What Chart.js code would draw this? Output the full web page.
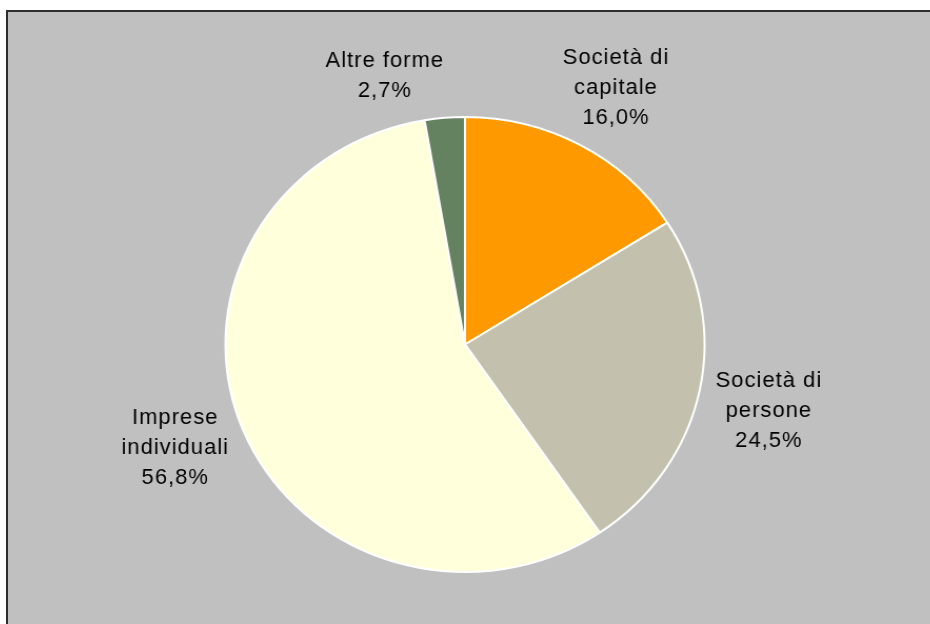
<!DOCTYPE html>
<html lang="it">
<head>
  <meta charset="UTF-8">
  <title>Forme giuridiche</title>
  <script src="https://cdn.jsdelivr.net/npm/chart.js"></script>
  <style>
    html, body { margin: 0; padding: 0; background: #ffffff; }
    body { width: 930px; height: 624px; position: relative; overflow: hidden; }
    .frame {
      position: absolute; left: 6px; top: 10px; width: 1000px; height: 700px;
      background: #c0c0c0; border-left: 2px solid #2e2e2e; border-top: 2px solid #2e2e2e;
    }
    /* la torta originale è leggermente ovale: allargo in orizzontale */
    .wrap {
      position: absolute; left: 0; top: 0; width: 930px; height: 624px;
      transform: scaleX(1.053); transform-origin: 465px 50%;
    }
  </style>
</head>
<body>
  <div class="frame"></div>
  <div class="wrap"><canvas id="torta"></canvas></div>

  <script>
    const SX = 1.053;
    const categorie = [['Società di', 'capitale'], ['Società di', 'persone'], ['Imprese', 'individuali'], ['Altre forme']];
    const valori = [16.0, 24.5, 56.8, 2.7];
    const colori = ['#FF9900', '#C3C1AD', '#FFFFDB', '#658260'];

    // posizione delle etichette: distanza dal centro (in raggi) e spostamento extra
    const posEtichette = [
      { k: 1.29, dx: 2, dy: 1 },
      { k: 1.30, dx: -1, dy: 6 },
      { k: 1.29, dx: -3, dy: -6 },
      { k: 1.20, dx: -53, dy: 3 }
    ];

    const etichette = {
      id: 'etichette',
      afterDraw(chart) {
        const ctx = chart.ctx;
        const meta = chart.getDatasetMeta(0);
        meta.data.forEach((arc, i) => {
          const mid = (arc.startAngle + arc.endAngle) / 2;
          const p = posEtichette[i];
          const r = arc.outerRadius * p.k;
          const cx = arc.x + Math.cos(mid) * r + p.dx;
          const cy = arc.y + Math.sin(mid) * r + p.dy;
          const righe = categorie[i].concat([valori[i].toFixed(1).replace('.', ',') + '%']);
          const lh = 30;
          ctx.save();
          ctx.translate(cx, cy);
          ctx.scale(1 / SX, 1);
          ctx.fillStyle = '#000000';
          ctx.font = '22px "Liberation Sans", Arial, sans-serif';
          ctx.letterSpacing = '1px';
          ctx.textAlign = 'center';
          ctx.textBaseline = 'middle';
          righe.forEach((t, j) => {
            ctx.fillText(t, 0, (j - (righe.length - 1) / 2) * lh);
          });
          ctx.restore();
        });
      }
    };

    new Chart(document.getElementById('torta'), {
      type: 'pie',
      data: {
        labels: categorie.map(c => c.join(' ')),
        datasets: [{
          data: valori,
          backgroundColor: colori,
          borderColor: '#ffffff',
          borderWidth: 2
        }]
      },
      options: {
        responsive: true,
        maintainAspectRatio: false,
        animation: false,
        layout: { padding: { left: 236.5, right: 236.5, top: 116, bottom: 51 } },
        plugins: {
          legend: { display: false },
          tooltip: { enabled: false }
        }
      },
      plugins: [etichette]
    });
  </script>
</body>
</html>
